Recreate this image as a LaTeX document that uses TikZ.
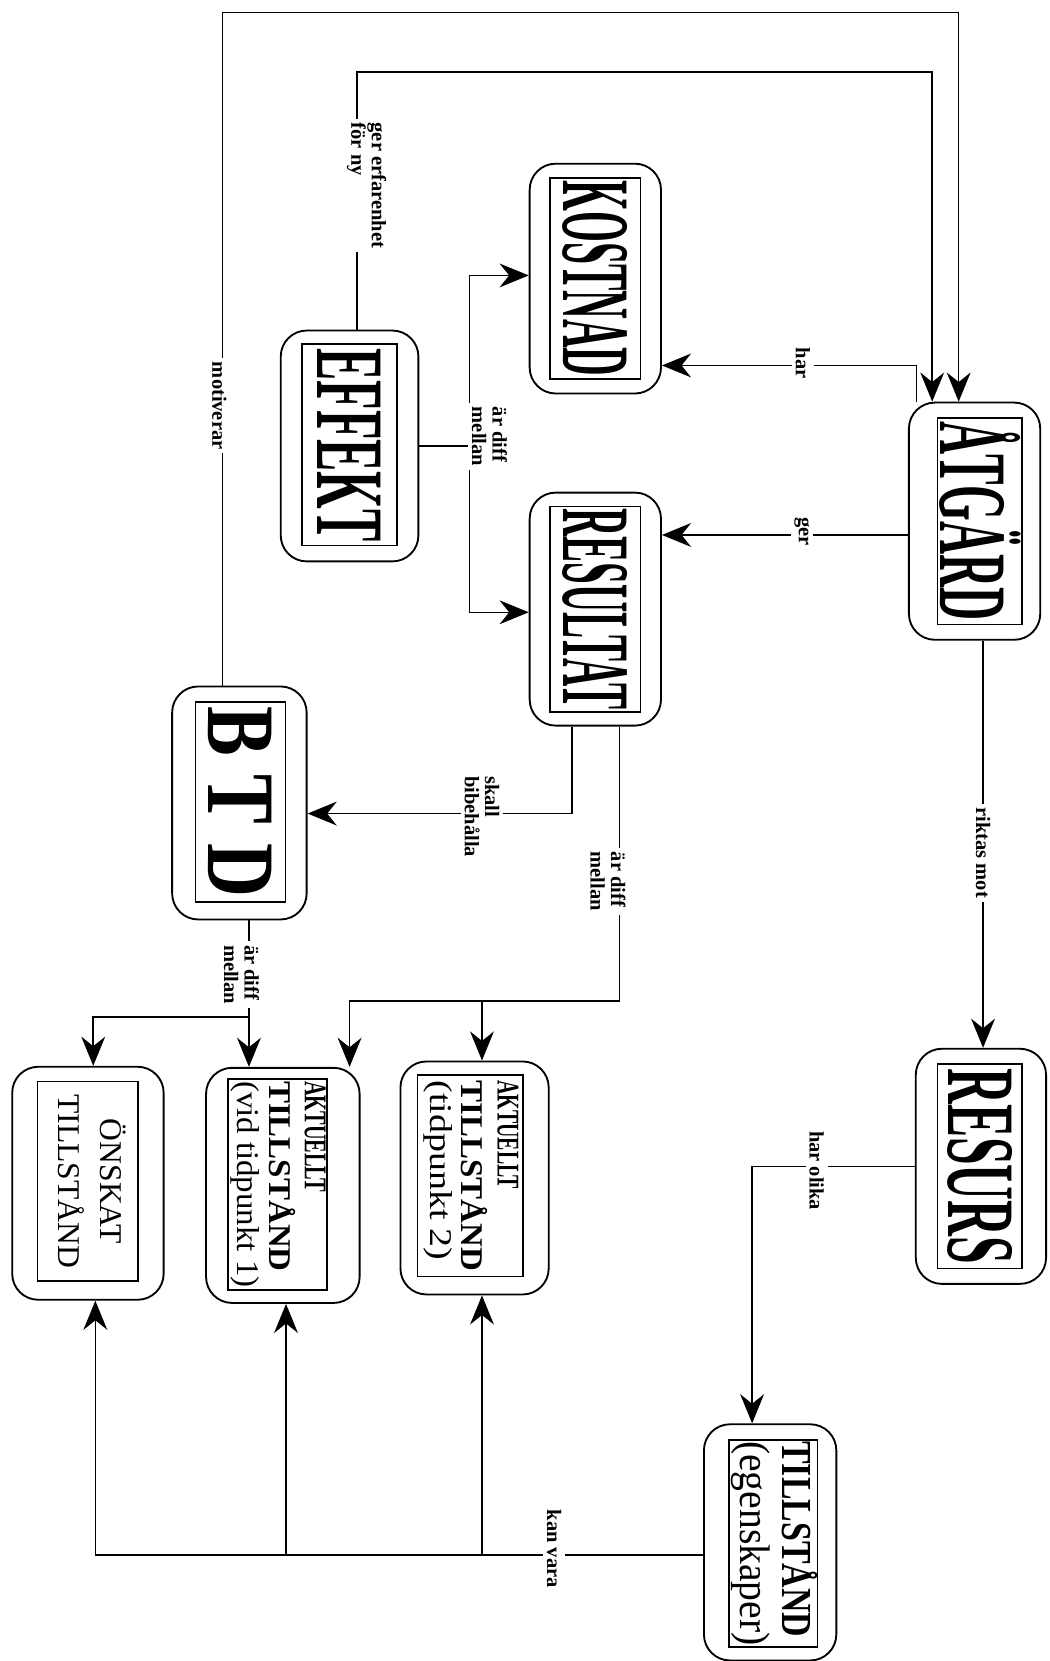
\documentclass[tikz,border=0pt]{standalone}
\usepackage{fontspec}
\setmainfont{Liberation Serif}
\usepackage{graphicx}
\usetikzlibrary{arrows.meta}
\newcommand{\sqz}[2]{\resizebox{#1}{\height}{#2}}
\tikzset{
  outer/.style={draw, rounded corners=14pt, line width=1pt, inner sep=0pt},
  inbox/.style={draw, line width=0.9pt, inner sep=0pt},
  big/.style={inbox, font=\fontsize{52}{52}\selectfont\bfseries},
  mid/.style={inbox, font=\fontsize{17}{17}\selectfont},
  elab/.style={rotate=-90, fill=white, inner sep=2pt, align=left, font=\fontsize{11}{11}\selectfont\bfseries},
  flow/.style={-{Stealth[length=5.5mm,width=4.5mm,inset=1.8mm]}, line width=0.8pt},
  conn/.style={line width=0.8pt},
}
\begin{document}
\begin{tikzpicture}[x=0.02cm, y=-0.02cm]
  \path[fill=white] (0,0) rectangle (991,1568);
  \useasboundingbox (0,0) rectangle (991,1568);
  % outer boxes
  \node[outer, minimum width=2.48cm, minimum height=4.48cm] (atg) at (920,492) {};
  \node[outer, minimum width=2.48cm, minimum height=4.34cm] (kost) at (562,263) {};
  \node[outer, minimum width=2.48cm, minimum height=4.4cm] (res) at (562,575) {};
  \node[outer, minimum width=2.6cm, minimum height=4.36cm] (eff) at (330,421) {};
  \node[outer, minimum width=2.54cm, minimum height=4.4cm] (btd) at (226,758) {};
  \node[outer, minimum width=2.46cm, minimum height=4.44cm] (resurs) at (926,1101) {};
  \node[outer, minimum width=2.5cm, minimum height=4.46cm] (tillst) at (727,1456) {};
  \node[outer, minimum width=2.86cm, minimum height=4.4cm] (onsk) at (83,1117) {};
  \node[outer, minimum width=2.9cm, minimum height=4.44cm] (akt1) at (267,1119) {};
  \node[outer, minimum width=2.8cm, minimum height=4.4cm] (akt2) at (448,1112) {};
  % inner boxes
  \node[big, minimum width=1.6cm, minimum height=3.9cm] (atgT) at (925,492) {\rotatebox{-90}{\sqz{3.75cm}{ÅTGÄRD}}};
  \node[big, minimum width=1.7cm, minimum height=3.8cm] (kostT) at (562,263) {\rotatebox{-90}{\sqz{3.7cm}{KOSTNAD}}};
  \node[big, minimum width=1.7cm, minimum height=3.88cm] (resT) at (562,575) {\rotatebox{-90}{\sqz{3.8cm}{RESULTAT}}};
  \node[big, minimum width=1.8cm, minimum height=3.8cm] (effT) at (330,420) {\rotatebox{-90}{\sqz{3.65cm}{EFFEKT}}};
  \node[big, minimum width=1.7cm, minimum height=3.78cm] (btdT) at (227,757) {\rotatebox{-90}{\sqz{3.6cm}{B T D}}};
  \node[big, minimum width=1.6cm, minimum height=3.86cm] (resursT) at (925,1101) {\rotatebox{-90}{\sqz{3.7cm}{RESURS}}};
  \node[inbox, minimum width=1.6cm, minimum height=3.9cm, font=\fontsize{23}{21}\selectfont] (tillstT) at (730,1457)
    {\rotatebox{-90}{\begin{tabular}{@{}l@{}}\sqz{3.7cm}{\bfseries TILLSTÅND}\\\sqz{3.86cm}{(egenskaper)}\end{tabular}}};
  \node[inbox, minimum width=1.9cm, minimum height=3.76cm, font=\fontsize{17}{22.7}\selectfont] (onskT) at (83,1115)
    {\rotatebox{-90}{\begin{tabular}{@{}c@{}}ÖNSKAT\\TILLSTÅND\end{tabular}}};
  \node[mid, minimum width=1.7cm, minimum height=3.98cm] (akt1T) at (262,1118)
    {\rotatebox{-90}{\begin{tabular}{@{}l@{}}\sqz{2.1cm}{\bfseries AKTUELLT}\\\sqz{3.6cm}{\bfseries TILLSTÅND}\\\sqz{3.9cm}{(vid tidpunkt 1)}\end{tabular}}};
  \node[mid, minimum width=2.0cm, minimum height=3.8cm] (akt2T) at (444,1110)
    {\rotatebox{-90}{\begin{tabular}{@{}l@{}}\sqz{2.05cm}{\bfseries AKTUELLT}\\\sqz{3.6cm}{\bfseries TILLSTÅND}\\\sqz{3.4cm}{(tidpunkt 2)}\end{tabular}}};
  % connectors
  \coordinate (m1) at (210,12);
  \coordinate (m2) at (905,12);
  \draw[flow] (btd.north -| m1) -- (m1) -- (m2) -- (atg.north -| m2);
  \coordinate (g1) at (337,68);
  \coordinate (g2) at (880,68);
  \draw[flow] (eff.north -| g1) -- (g1) -- (g2) -- (atg.north -| g2);
  \coordinate (h1) at (865,345);
  \draw[flow] (atg.north -| h1) -- (h1) -- (kost.east |- h1);
  \coordinate (r1) at (0,505);
  \draw[flow] (atg.west |- r1) -- (res.east |- r1);
  \coordinate (dk) at (443,260);
  \coordinate (dr) at (443,578);
  \draw[conn] (eff.east) -- (eff.east -| dk);
  \draw[conn] (dk) -- (dr);
  \draw[flow] (dk) -- (kost.west |- dk);
  \draw[flow] (dr) -- (res.west |- dr);
  \coordinate (s1) at (540,768);
  \draw[flow] (res.south -| s1) |- (btd.east |- s1);
  \coordinate (a1) at (585,945);
  \coordinate (a2) at (330,945);
  \coordinate (a3) at (455,945);
  \draw[flow] (res.south -| a1) -- (a1) -- (a2) -- (akt1.north -| a2);
  \draw[flow] (a3) -- (akt2.north -| a3);
  \coordinate (b1) at (235,960);
  \coordinate (b2) at (88,960);
  \draw[flow] (btd.south -| b1) -- (akt1.north -| b1);
  \draw[flow] (b1) -- (b2) -- (onsk.north -| b2);
  \coordinate (k1) at (928,0);
  \draw[flow] (atg.south -| k1) -- (resurs.north -| k1);
  \coordinate (o1) at (710,1101);
  \draw[flow] (resurs.west) -- (o1) -- (tillst.north -| o1);
  \coordinate (v1) at (90,1468);
  \coordinate (v2) at (270,1468);
  \coordinate (v3) at (455,1468);
  \draw[flow] (tillst.west |- v1) -- (v1) -- (onsk.south -| v1);
  \draw[flow] (v2) -- (akt1.south -| v2);
  \draw[flow] (v3) -- (akt2.south -| v3);
  % labels
  \node[elab] (lMot) at (207,383) {motiverar};
  \node[elab] (lErf) at (346,175) {ger erfarenhet\\för ny};
  \node[elab] (lHar) at (758,343) {har};
  \node[elab] (lGer) at (757,502) {ger};
  \node[elab] (lDiffE) at (462,412) {är diff\\mellan};
  \node[elab] (lSkall) at (455,771) {skall\\bibehålla};
  \node[elab] (lDiffR) at (574,832) {är diff\\mellan};
  \node[elab] (lDiffB) at (228,920) {är diff\\mellan};
  \node[elab] (lRikt) at (928,805) {riktas mot};
  \node[elab] (lOlika) at (771,1105) {har olika};
  \node[elab] (lKan) at (523,1462) {kan vara};
\end{tikzpicture}
\end{document}
